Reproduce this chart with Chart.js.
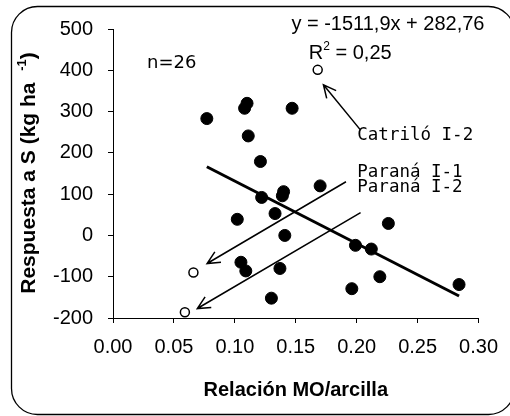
<!DOCTYPE html>
<html>
<head>
    <title>Respuesta a S vs MO/arcilla</title>
    <script src="https://cdn.jsdelivr.net/npm/chart.js"></script>
    <style>
        body { margin: 0; background: #fff; }
    </style>
</head>
<body>
    <canvas id="respuestaChart" width="510" height="416"></canvas>
    <script>
    // Sites used in the regression: MO/arcilla ratio and response to S (kg/ha)
    const sitesX = [0.077, 0.110, 0.108, 0.111, 0.147, 0.121, 0.140, 0.139, 0.122, 0.102, 0.133, 0.141,
                    0.105, 0.109, 0.137, 0.130, 0.170, 0.226, 0.199, 0.212, 0.219, 0.196, 0.284];
    const sitesY = [283, 320, 308, 241, 308, 179, 106, 96, 92, 39, 53, 0,
                    -65, -86, -80, -152, 120, 29, -24, -33, -100, -129, -119];

    // Sites left out of the fit (open circles)
    const outlierNames = ['Catriló I-2', 'Paraná I-1', 'Paraná I-2'];
    const outlierX = [0.168, 0.066, 0.059];
    const outlierY = [401, -90, -186];

    // Linear fit
    const slope = -1511.9;
    const intercept = 282.76;
    const r2 = 0.25;

    const xTicks = [0.00, 0.05, 0.10, 0.15, 0.20, 0.25, 0.30];
    const yTicks = [-200, -100, 0, 100, 200, 300, 400, 500];

    const toComma = v => String(v).replace('.', ',');

    const xMin = Math.min(...sitesX);
    const xMax = Math.max(...sitesX);

    // Annotation layout, in data units
    const labelSpots = [
        { text: outlierNames[0], x: 0.2005, y: 242, from: [0.2032, 255], to: [0.1727, 365] },
        { text: outlierNames[1], x: 0.2005, y: 153, from: [0.1912, 130], to: [0.0772, -68] },
        { text: outlierNames[2], x: 0.2005, y: 117, from: [0.2032, 55], to: [0.0692, -177] }
    ];

    function drawArrow(ctx, fx, fy, tx, ty) {
        const a = Math.atan2(ty - fy, tx - fx);
        const len = 14, spread = 0.45;
        ctx.beginPath();
        ctx.moveTo(fx, fy);
        ctx.lineTo(tx, ty);
        ctx.moveTo(tx - len * Math.cos(a - spread), ty - len * Math.sin(a - spread));
        ctx.lineTo(tx, ty);
        ctx.lineTo(tx - len * Math.cos(a + spread), ty - len * Math.sin(a + spread));
        ctx.stroke();
    }

    const annotate = {
        id: 'annotate',
        afterDraw(chart) {
            const ctx = chart.ctx;
            const sx = chart.scales.x, sy = chart.scales.y;
            const px = v => sx.getPixelForValue(v);
            const py = v => sy.getPixelForValue(v);

            ctx.save();
            ctx.fillStyle = '#000';
            ctx.strokeStyle = '#000';

            // rounded frame around the whole figure
            ctx.lineWidth = 1.3;
            ctx.beginPath();
            ctx.roundRect(11.5, 6.5, 503, 408, 26);
            ctx.stroke();

            // arrows and site names
            ctx.lineWidth = 1.5;
            ctx.font = '17.5px "DejaVu Sans Mono"';
            ctx.textBaseline = 'middle';
            ctx.textAlign = 'left';
            labelSpots.forEach(s => {
                drawArrow(ctx, px(s.from[0]), py(s.from[1]), px(s.to[0]), py(s.to[1]));
                ctx.fillText(s.text, px(s.x), py(s.y));
            });

            // n
            ctx.font = '18px "DejaVu Sans"';
            ctx.fillText('n=' + (sitesX.length + outlierX.length), px(0.0279), py(416));

            // equation and R2
            ctx.font = '20px "Liberation Sans"';
            ctx.fillText('y = ' + toComma(slope) + 'x + ' + toComma(intercept), px(0.1464), py(510));
            let rx = px(0.1607);
            const ry = py(441);
            ctx.fillText('R', rx, ry);
            rx += ctx.measureText('R').width;
            ctx.font = '12px "Liberation Sans"';
            ctx.fillText('2', rx, ry - 7);
            rx += ctx.measureText('2').width;
            ctx.font = '20px "Liberation Sans"';
            ctx.fillText(' = ' + toComma(r2.toFixed(2)), rx, ry);

            // y axis title with superscript
            ctx.translate(29, 173);
            ctx.rotate(-Math.PI / 2);
            const main = 'Respuesta a S (kg ha  ';
            ctx.font = 'bold 21px "Liberation Sans"';
            const w1 = ctx.measureText(main).width;
            const w3 = ctx.measureText(')').width;
            ctx.font = 'bold 13px "Liberation Sans"';
            const w2 = ctx.measureText('-1').width;
            let tx = -(w1 + w2 + w3) / 2;
            ctx.font = 'bold 21px "Liberation Sans"';
            ctx.fillText(main, tx, 0);
            tx += w1;
            ctx.font = 'bold 13px "Liberation Sans"';
            ctx.fillText('-1', tx, -7);
            tx += w2;
            ctx.font = 'bold 21px "Liberation Sans"';
            ctx.fillText(')', tx, 0);

            ctx.restore();
        }
    };

    Chart.defaults.color = '#000';
    Chart.defaults.font.family = '"Liberation Sans", Arial, sans-serif';

    const ctx = document.getElementById('respuestaChart').getContext('2d');
    new Chart(ctx, {
        type: 'scatter',
        data: {
            datasets: [
                {
                    type: 'line',
                    data: [
                        { x: xMin, y: slope * xMin + intercept },
                        { x: xMax, y: slope * xMax + intercept }
                    ],
                    borderColor: '#000',
                    borderWidth: 3,
                    pointRadius: 0
                },
                {
                    data: sitesX.map((v, i) => ({ x: v, y: sitesY[i] })),
                    backgroundColor: '#000',
                    borderColor: '#000',
                    pointRadius: 6
                },
                {
                    data: outlierX.map((v, i) => ({ x: v, y: outlierY[i] })),
                    backgroundColor: '#fff',
                    borderColor: '#000',
                    borderWidth: 1.5,
                    pointRadius: 4.5
                }
            ]
        },
        options: {
            responsive: false,
            animation: false,
            layout: { padding: { top: 29, right: 20, left: 0, bottom: 0 } },
            plugins: {
                legend: { display: false },
                tooltip: { enabled: false }
            },
            scales: {
                x: {
                    type: 'linear',
                    min: xTicks[0],
                    max: xTicks[xTicks.length - 1],
                    afterFit: scale => { scale.height = 98; },
                    afterBuildTicks: scale => { scale.ticks = xTicks.map(v => ({ value: v })); },
                    ticks: {
                        font: { size: 20 },
                        padding: 12,
                        callback: v => v.toFixed(2)
                    },
                    grid: { drawOnChartArea: false, color: '#000', tickLength: 5 },
                    border: { color: '#000', width: 1 },
                    title: {
                        display: true,
                        text: 'Relación MO/arcilla',
                        font: { size: 20, weight: 'bold' },
                        padding: { top: 0, bottom: 14 }
                    }
                },
                y: {
                    min: yTicks[0],
                    max: yTicks[yTicks.length - 1],
                    afterFit: scale => { scale.width = 113; },
                    afterBuildTicks: scale => { scale.ticks = yTicks.map(v => ({ value: v })); },
                    ticks: {
                        font: { size: 20 },
                        padding: 15
                    },
                    grid: { drawOnChartArea: false, color: '#000', tickLength: 5 },
                    border: { color: '#000', width: 1 }
                }
            }
        },
        plugins: [annotate]
    });
    </script>
</body>
</html>
